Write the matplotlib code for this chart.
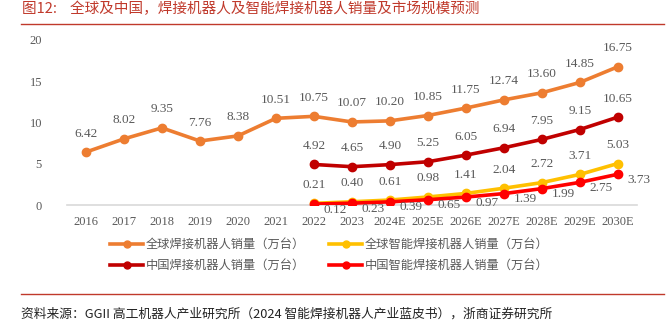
import matplotlib
matplotlib.use("Agg")
import matplotlib.pyplot as plt
from matplotlib.lines import Line2D

plt.rcParams['font.family'] = ['Noto Sans CJK SC', 'DejaVu Sans']

# 数据
years = ['2016', '2017', '2018', '2019', '2020', '2021', '2022', '2023',
         '2024E', '2025E', '2026E', '2027E', '2028E', '2029E', '2030E']
global_weld = [6.42, 8.02, 9.35, 7.76, 8.38, 10.51, 10.75, 10.07,
               10.20, 10.85, 11.75, 12.74, 13.60, 14.85, 16.75]
# 以下从2022年开始
china_weld = [4.92, 4.65, 4.90, 5.25, 6.05, 6.94, 7.95, 9.15, 10.65]
global_smart = [0.21, 0.40, 0.61, 0.98, 1.41, 2.04, 2.72, 3.71, 5.03]
china_smart = [0.12, 0.23, 0.39, 0.65, 0.97, 1.39, 1.99, 2.75, 3.73]
yticks = [0, 5, 10, 15, 20]

names = ['全球焊接机器人销量（万台）', '全球智能焊接机器人销量（万台）',
         '中国焊接机器人销量（万台）', '中国智能焊接机器人销量（万台）']
c_orange = '#ED7D31'
c_yellow = '#FFC000'
c_dark = '#C00000'
c_red = '#FF0000'
grey = '#595959'
num_font = 'Liberation Serif'

fig = plt.figure(figsize=(6.66, 3.25), dpi=100)
ax = fig.add_axes((0.1006, 0.369, 0.8554, 0.508))

x_all = list(range(len(years)))
x_late = x_all[6:]

def draw(xs, ys, color, pos):
    ax.plot(xs, ys, color=color, lw=2.6, marker='o', ms=6, zorder=3,
            solid_capstyle='round')
    for xv, yv in zip(xs, ys):
        if pos == 'above':
            ax.annotate(f'{yv:.2f}', (xv, yv), xytext=(0, 9), textcoords='offset points',
                        ha='center', va='bottom', fontsize=9.5, color=grey,
                        family=num_font)
        else:
            ax.annotate(f'{yv:.2f}', (xv, yv), xytext=(7, -4), textcoords='offset points',
                        ha='left', va='center', fontsize=9.5, color=grey,
                        family=num_font)

draw(x_all, global_weld, c_orange, 'above')
draw(x_late, china_weld, c_dark, 'above')
draw(x_late, global_smart, c_yellow, 'above')
draw(x_late, china_smart, c_red, 'right')

ax.set_xlim(-0.5, len(years) - 0.5)
ax.set_ylim(0, 20)
ax.set_yticks(yticks)
ax.set_yticklabels([str(v) for v in yticks], family=num_font, fontsize=9, color=grey)
ax.set_xticks(x_all)
ax.set_xticklabels(years, family=num_font, fontsize=9, color=grey)
ax.tick_params(length=0)
ax.tick_params(axis='x', pad=8)
ax.tick_params(axis='y', pad=18)
for s in ['top', 'right', 'left']:
    ax.spines[s].set_visible(False)
ax.spines['bottom'].set_color('#D9D9D9')
ax.spines['bottom'].set_linewidth(1.2)
ax.spines['bottom'].set_zorder(1)

# 图例按列填充：第一列为全球/中国焊接，第二列为智能焊接
order = [0, 2, 1, 3]
colors = [c_orange, c_yellow, c_dark, c_red]
handles = [Line2D([], [], color=colors[i], lw=2.6, marker='o', ms=5) for i in order]
labels = [names[i] for i in order]
leg = fig.legend(handles, labels, loc='upper left', bbox_to_anchor=(110 / 666, 1 - 238 / 325),
                 ncol=2, frameon=False, fontsize=8.8, handlelength=2.7, handletextpad=0.2,
                 columnspacing=2.0, labelspacing=0.65, borderpad=0, borderaxespad=0)
for t in leg.get_texts():
    t.set_color(grey)

# 标题与来源
title_red = '#C0392B'
fig.text(22 / 666, 1 - 9 / 325, '图12:    全球及中国，焊接机器人及智能焊接机器人销量及市场规模预测',
         fontsize=10.5, color=title_red, ha='left', va='center')
fig.add_artist(Line2D([21 / 666, 664 / 666], [1 - 24 / 325, 1 - 24 / 325],
                      color=title_red, lw=1.0))
fig.add_artist(Line2D([21 / 666, 664 / 666], [1 - 294 / 325, 1 - 294 / 325],
                      color=title_red, lw=1.0))
fig.text(21 / 666, 1 - 314 / 325,
         '资料来源：GGII 高工机器人产业研究所（2024 智能焊接机器人产业蓝皮书），浙商证券研究所',
         fontsize=9.2, color='#222222', ha='left', va='center')

fig.savefig('out.png', dpi=100)
